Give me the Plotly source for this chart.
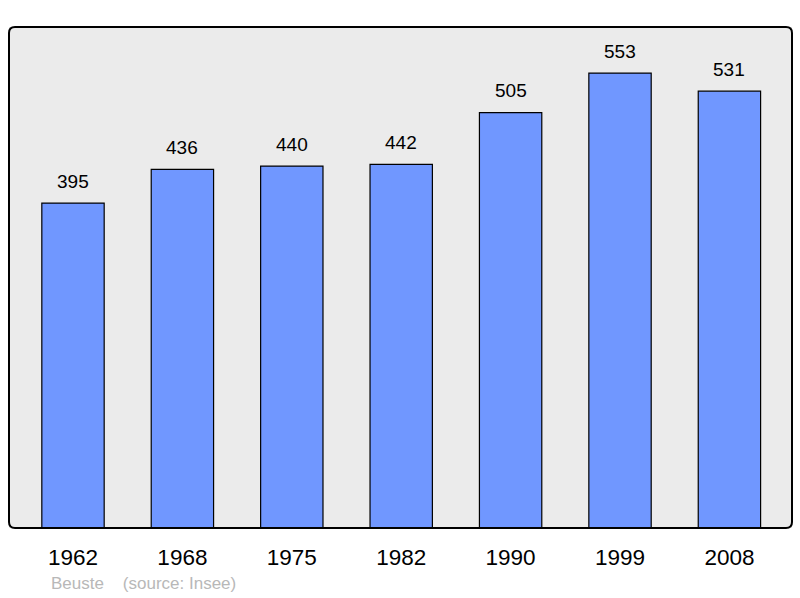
import plotly.graph_objects as go

years = ["1962", "1968", "1975", "1982", "1990", "1999", "2008"]
population = [395, 436, 440, 442, 505, 553, 531]
source_text = "Beuste\u00a0\u00a0\u00a0\u00a0(source: Insee)"

idx = list(range(len(years)))
FONT = "Liberation Sans, Arial, sans-serif"

fig = go.Figure()
fig.add_trace(go.Bar(
    x=idx, y=population,
    width=0.57,
    marker=dict(color="#7097ff", line=dict(color="black", width=1.2)),
    hoverinfo="skip",
))

for i, v in zip(idx, population):
    fig.add_annotation(x=i, y=v, xref="x", yref="y", text=str(v), showarrow=False,
                       yanchor="middle", yshift=22,
                       font=dict(family=FONT, size=19, color="black"))

fig.add_annotation(xref="paper", yref="paper", x=0.0505, y=-0.111,
                   xanchor="left", yanchor="middle", showarrow=False,
                   text=source_text,
                   font=dict(family=FONT, size=17, color="#b8b8b8"))

rx, ry = 6 / 783, 6 / 501
path = (f"M {rx},0 L {1-rx},0 Q 1,0 1,{ry} L 1,{1-ry} Q 1,1 {1-rx},1 "
        f"L {rx},1 Q 0,1 0,{1-ry} L 0,{ry} Q 0,0 {rx},0 Z")
fig.add_shape(type="path", xref="paper", yref="paper", path=path,
              line=dict(color="black", width=2), layer="above")

fig.update_layout(
    width=800, height=598,
    margin=dict(l=9, r=8, t=27, b=70),
    paper_bgcolor="white", plot_bgcolor="#ebebeb",
    showlegend=False,
    xaxis=dict(range=[-0.585, 6.572], showgrid=False,
               tickmode="array", tickvals=idx, ticktext=years,
               zeroline=False, showline=False, ticks="",
               ticklabelstandoff=13,
               tickfont=dict(family=FONT, size=22.5, color="black")),
    yaxis=dict(range=[0, 609], showgrid=False, zeroline=False,
               showticklabels=False, showline=False, ticks=""),
)

fig.write_html("out.html", config={"displayModeBar": False},
               post_script="document.body.style.margin='0';")
